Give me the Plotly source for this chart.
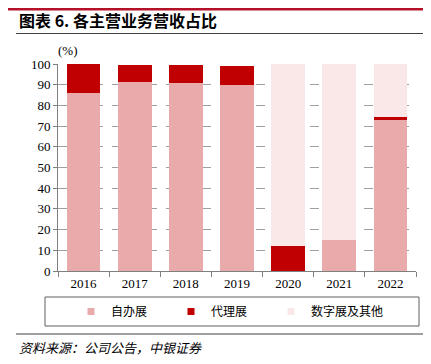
import plotly.graph_objects as go

years = ["2016", "2017", "2018", "2019", "2020", "2021", "2022"]
self_run = [86.0, 91.3, 90.8, 90.0, 0.0, 15.0, 73.4]
agency = [14.0, 8.4, 8.7, 8.9, 12.1, 0.0, 0.8]
digital = [0.0, 0.0, 0.0, 0.0, 87.9, 85.0, 25.8]
series_names = ["自办展", "代理展", "数字展及其他"]
colors = ["#E8AAAA", "#C00000", "#FAE8E8"]
legend_widths = [55, 55, 95]

# page is offset by the 8px default body margin
OFF = 8
W, H = 431 - OFF, 364 - OFF
L, R, T, B = 58 - OFF, 15, 64 - OFF, 93

fig = go.Figure()
for name, vals, col in zip(series_names, [self_run, agency, digital], colors):
    fig.add_trace(go.Bar(x=years, y=vals, name=name, marker=dict(color=col, line=dict(width=0)),
                         width=0.66, showlegend=False))
for name, col, lw in zip(series_names, colors, legend_widths):
    fig.add_trace(go.Scatter(x=[None], y=[None], mode="markers", name=name, legendwidth=lw,
                             marker=dict(symbol="square", size=7, color=col, line=dict(width=0))))

pw, ph = W - L - R, H - T - B
def xp(x):
    return (x - OFF - L) / pw
def yp(y):
    return (H - B - (y - OFF)) / ph

shapes = [
    dict(type="rect", xref="paper", yref="paper", x0=xp(0), x1=xp(431), y0=yp(8), y1=yp(10.5),
         fillcolor="#B5122A", line=dict(width=0)),
    dict(type="line", xref="paper", yref="paper", x0=xp(16), x1=xp(427), y0=yp(33.5), y1=yp(33.5),
         line=dict(color="#404040", width=1)),
    dict(type="line", xref="paper", yref="paper", x0=xp(16), x1=xp(427), y0=yp(334), y1=yp(334),
         line=dict(color="#808080", width=1.5)),
    dict(type="rect", xref="paper", yref="paper", x0=xp(45), x1=xp(419), y0=yp(297), y1=yp(326),
         line=dict(color="#606060", width=1), fillcolor="rgba(0,0,0,0)"),
]

annotations = [
    dict(text="<b>图表 6. 各主营业务营收占比</b>", xref="paper", yref="paper", x=xp(17), y=yp(20),
         xanchor="left", yanchor="middle", showarrow=False,
         font=dict(family="Noto Sans CJK SC", size=16, color="#000000")),
    dict(text="(%)", xref="paper", yref="paper", x=xp(68), y=yp(51),
         xanchor="center", yanchor="middle", showarrow=False,
         font=dict(family="Liberation Serif", size=13, color="#000000")),
    dict(text="<i>资料来源：公司公告，中银证券</i>", xref="paper", yref="paper", x=xp(17), y=yp(347),
         xanchor="left", yanchor="middle", showarrow=False,
         font=dict(family="Noto Sans CJK SC", size=13, color="#000000")),
]

fig.update_layout(
    width=W, height=H,
    margin=dict(l=L, r=R, t=T, b=B, autoexpand=False),
    barmode="stack",
    bargap=0.34,
    plot_bgcolor="white", paper_bgcolor="white",
    showlegend=True,
    legend=dict(orientation="h", x=xp(71), y=yp(311.5), xanchor="left", yanchor="middle",
                font=dict(family="Noto Sans CJK SC", size=12, color="#000000"),
                itemwidth=30, traceorder="normal",
                bgcolor="rgba(0,0,0,0)", borderwidth=0, itemclick=False),
    xaxis=dict(showgrid=False, showline=True, linecolor="#808080", linewidth=1,
               ticks="outside", tickson="boundaries", ticklen=5, tickcolor="#808080",
               tickfont=dict(family="Liberation Serif", size=13, color="#000000"),
               fixedrange=True),
    yaxis=dict(range=[0, 100], dtick=10, showgrid=True, gridcolor="#A0A0A0", griddash="dash",
               gridwidth=1, showline=True, linecolor="#808080", linewidth=1,
               ticks="outside", ticklen=4, tickcolor="#808080",
               tickfont=dict(family="Liberation Serif", size=13, color="#000000"),
               zeroline=False, fixedrange=True),
    shapes=shapes,
    annotations=annotations,
)

fig.write_html("out.html")
